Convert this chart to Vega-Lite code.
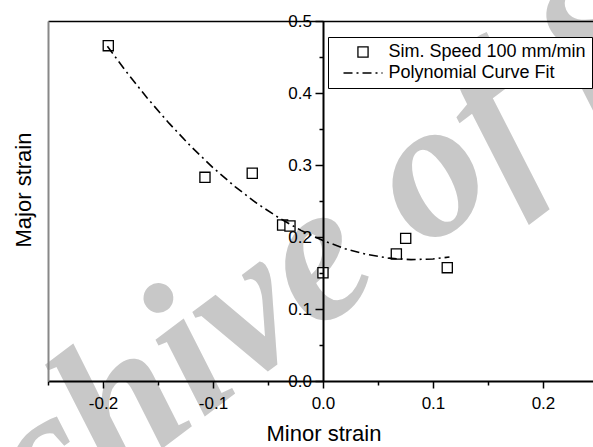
{
  "$schema": "https://vega.github.io/schema/vega-lite/v6.json",
  "width": 545,
  "height": 360,
  "autosize": "none",
  "padding": {"left": 48, "top": 21, "right": 0, "bottom": 66},
  "background": "white",
  "config": {
    "font": "Liberation Sans",
    "view": {"stroke": null},
    "axis": {"grid": false, "zindex": 1, "labelColor": "black", "titleColor": "black", "titleFontWeight": "normal"},
    "legend": {
      "orient": "none",
      "legendX": 280,
      "legendY": 16,
      "title": null,
      "padding": 6,
      "clipHeight": 18,
      "rowPadding": 3,
      "symbolSize": 1521,
      "symbolOffset": 8.5,
      "symbolStrokeColor": "black",
      "symbolStrokeWidth": 1.3,
      "symbolFillColor": "white",
      "symbolOpacity": 1,
      "labelOffset": 5,
      "labelFontSize": 18,
      "labelFont": "Liberation Sans",
      "labelColor": "black",
      "labelLimit": 400,
      "strokeColor": "black",
      "fillColor": "white"
    }
  },
  "datasets": {
    "simulation": [
      {"minor": -0.1952, "major": 0.4657, "series": "Sim. Speed 100 mm/min"},
      {"minor": -0.1073, "major": 0.2829, "series": "Sim. Speed 100 mm/min"},
      {"minor": -0.0643, "major": 0.2885, "series": "Sim. Speed 100 mm/min"},
      {"minor": -0.0367, "major": 0.2167, "series": "Sim. Speed 100 mm/min"},
      {"minor": -0.0300, "major": 0.2153, "series": "Sim. Speed 100 mm/min"},
      {"minor": 0.0000, "major": 0.1504, "series": "Sim. Speed 100 mm/min"},
      {"minor": 0.0667, "major": 0.1764, "series": "Sim. Speed 100 mm/min"},
      {"minor": 0.0752, "major": 0.1981, "series": "Sim. Speed 100 mm/min"},
      {"minor": 0.1130, "major": 0.1574, "series": "Sim. Speed 100 mm/min"}
    ],
    "fit": [
      {"minor": -0.196, "major": 0.4649, "series": "Polynomial Curve Fit"},
      {"minor": -0.18, "major": 0.4319, "series": "Polynomial Curve Fit"},
      {"minor": -0.16, "major": 0.3934, "series": "Polynomial Curve Fit"},
      {"minor": -0.14, "major": 0.3581, "series": "Polynomial Curve Fit"},
      {"minor": -0.12, "major": 0.3257, "series": "Polynomial Curve Fit"},
      {"minor": -0.10, "major": 0.2963, "series": "Polynomial Curve Fit"},
      {"minor": -0.08, "major": 0.2700, "series": "Polynomial Curve Fit"},
      {"minor": -0.06, "major": 0.2466, "series": "Polynomial Curve Fit"},
      {"minor": -0.04, "major": 0.2265, "series": "Polynomial Curve Fit"},
      {"minor": -0.02, "major": 0.2092, "series": "Polynomial Curve Fit"},
      {"minor": 0.00, "major": 0.1950, "series": "Polynomial Curve Fit"},
      {"minor": 0.02, "major": 0.1838, "series": "Polynomial Curve Fit"},
      {"minor": 0.04, "major": 0.1757, "series": "Polynomial Curve Fit"},
      {"minor": 0.06, "major": 0.1706, "series": "Polynomial Curve Fit"},
      {"minor": 0.08, "major": 0.1686, "series": "Polynomial Curve Fit"},
      {"minor": 0.10, "major": 0.1695, "series": "Polynomial Curve Fit"},
      {"minor": 0.115, "major": 0.1722, "series": "Polynomial Curve Fit"}
    ]
  },
  "resolve": {"axis": {"x": "independent", "y": "independent"}},
  "layer": [
    {
      "data": {"values": [{}]},
      "mark": {
        "type": "text",
        "text": "Archive of SID",
        "font": "Liberation Serif",
        "fontStyle": "italic",
        "fontWeight": "bold",
        "fontSize": 198,
        "color": "#c8c8c8",
        "angle": -37,
        "align": "center",
        "baseline": "alphabetic"
      },
      "encoding": {
        "x": {"datum": 0.0405, "type": "quantitative", "scale": {"domain": [-0.25, 0.2455], "nice": false, "zero": false}, "axis": null},
        "y": {"datum": 0.121, "type": "quantitative", "scale": {"domain": [0, 0.5], "nice": false, "zero": false}, "axis": null}
      }
    },
    {
      "data": {"name": "simulation"},
      "mark": {"type": "point", "size": 1521, "filled": false, "fill": "white", "stroke": "black", "color": "black", "strokeWidth": 1.3, "opacity": 1},
      "encoding": {
        "x": {
          "field": "minor",
          "type": "quantitative",
          "scale": {"domain": [-0.25, 0.2455], "nice": false, "zero": false},
          "axis": {
            "orient": "bottom",
            "zindex": 1,
            "values": [-0.25, -0.2, -0.15, -0.1, -0.05, 0, 0.05, 0.1, 0.15, 0.2],
            "labelExpr": "abs(datum.value*10 - round(datum.value*10)) < 0.001 ? replace(format(datum.value, '.1f'), '\u2212', '-') : ''",
            "tickSize": {"condition": {"test": "abs(datum.value*10 - round(datum.value*10)) < 0.001", "value": 7}, "value": 4},
            "tickColor": "black",
            "tickWidth": 1.5,
            "domainColor": "black",
            "domainWidth": 2,
            "labelFontSize": 17,
            "labelPadding": 7,
            "labelFlush": false,
            "labelOverlap": false,
            "labelBound": false,
            "title": "Minor strain",
            "titleFontSize": 22,
            "titlePadding": 12.5,
            "titleX": 275.5
          }
        },
        "y": {
          "field": "major",
          "type": "quantitative",
          "scale": {"domain": [0, 0.5], "nice": false, "zero": false},
          "axis": {
            "orient": "left",
            "zindex": 1,
            "offset": -275,
            "values": [0, 0.05, 0.1, 0.15, 0.2, 0.25, 0.3, 0.35, 0.4, 0.45, 0.5],
            "labelExpr": "abs(datum.value*10 - round(datum.value*10)) < 0.001 ? format(datum.value, '.1f') : ''",
            "tickSize": {"condition": {"test": "abs(datum.value*10 - round(datum.value*10)) < 0.001", "value": 8}, "value": 4},
            "tickColor": "black",
            "tickWidth": 1.5,
            "domainColor": "black",
            "domainWidth": 2,
            "labelFontSize": 17,
            "labelPadding": 3.5,
            "labelFlush": false,
            "labelOverlap": false,
            "labelBound": false,
            "title": null
          }
        },
        "shape": {
          "field": "series",
          "type": "nominal",
          "scale": {
            "domain": ["Sim. Speed 100 mm/min", "Polynomial Curve Fit"],
            "range": ["M-0.26,-0.26H0.26V0.26H-0.26Z", "M-1,0H1"]
          },
          "legend": {
            "labelExpr": "datum.label + '  \u2009'",
            "encode": {
              "symbols": {
                "update": {
                  "stroke": {"value": "black"},
                  "strokeWidth": {"value": 1.3},
                  "fill": {"value": "white"},
                  "opacity": {"value": 1},
                  "strokeOpacity": {"value": 1}
                }
              }
            }
          }
        }
      }
    },
    {
      "data": {"name": "fit"},
      "mark": {"type": "line", "color": "black", "strokeWidth": 1.6},
      "encoding": {
        "x": {
          "field": "minor",
          "type": "quantitative",
          "scale": {"domain": [-0.25, 0.2455], "nice": false, "zero": false},
          "axis": {"orient": "top", "zindex": 1, "ticks": false, "labels": false, "domainColor": "black", "domainWidth": 1.3, "title": null}
        },
        "y": {
          "field": "major",
          "type": "quantitative",
          "scale": {"domain": [0, 0.5], "nice": false, "zero": false},
          "axis": {
            "orient": "left",
            "zindex": 1,
            "ticks": false,
            "labels": false,
            "domainColor": "#888888",
            "domainWidth": 2,
            "title": "Major strain",
            "titleFontSize": 22,
            "titlePadding": 13,
            "titleY": 168.5
          }
        },
        "strokeDash": {
          "field": "series",
          "type": "nominal",
          "scale": {"domain": ["Sim. Speed 100 mm/min", "Polynomial Curve Fit"], "range": [[1, 0], [9, 4, 2, 4]]},
          "legend": {
            "labelExpr": "datum.label + '  \u2009'",
            "encode": {
              "symbols": {
                "update": {
                  "stroke": {"value": "black"},
                  "strokeWidth": {"value": 1.3},
                  "fill": {"value": "white"},
                  "opacity": {"value": 1},
                  "strokeOpacity": {"value": 1}
                }
              }
            }
          }
        }
      }
    }
  ]
}
